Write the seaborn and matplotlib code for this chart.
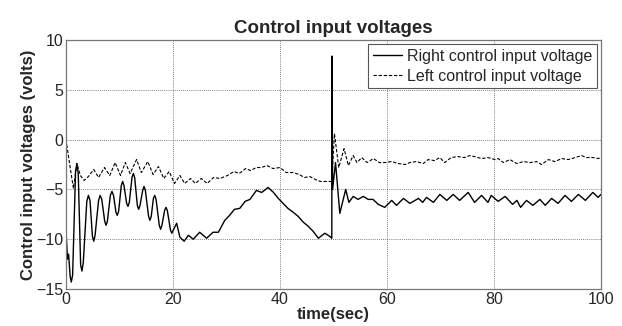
import matplotlib
matplotlib.use("Agg")
import matplotlib.pyplot as plt
import seaborn as sns
import pandas as pd

# Right control input voltage (solid)
t_right = [0.0, 0.3, 0.5, 0.8, 1.0, 1.25, 1.8, 2.05, 2.3, 2.75, 3.0, 3.25,
           3.9, 4.2, 4.5, 4.95, 5.2, 5.45, 6.1, 6.4, 6.7, 7.25, 7.5, 7.75,
           8.3, 8.6, 8.9, 9.35, 9.6, 9.85, 10.35, 10.6, 10.85, 11.35, 11.6, 11.85,
           12.35, 12.6, 12.85, 13.35, 13.6, 13.85, 14.35, 14.6, 14.85, 15.45, 15.7, 15.95,
           16.35, 16.6, 16.85, 17.45, 17.7, 17.95, 18.45, 18.7, 18.95, 19.55, 19.8, 20.05,
           20.7, 21.3, 22.1, 22.9, 23.8, 25.0, 26.3, 27.5, 28.5, 29.7, 30.6, 31.5,
           32.5, 33.5, 34.4, 35.6, 36.6, 37.8, 38.8, 39.7, 40.6, 41.5, 42.5, 43.4,
           44.4, 45.3, 46.2, 47.2, 48.4, 49.3, 49.7, 49.75, 49.85, 50.4, 51.2, 52.3,
           52.9, 53.7, 54.6, 55.6, 56.5, 57.4, 58.4, 59.6, 60.9, 61.8, 63.1, 64.3,
           65.9, 66.7, 67.4, 68.7, 69.9, 71.2, 72.4, 73.6, 75.2, 76.4, 77.7, 78.9,
           79.5, 80.8, 82.1, 83.5, 84.3, 85.0, 86.1, 87.3, 88.6, 89.6, 90.8, 92.0,
           93.3, 94.5, 95.8, 97.1, 98.5, 99.5, 100.0]
v_right = [-9.0, -12.0, -11.5, -13.8, -14.3, -13.6, -3.2, -2.4, -3.4, -12.6, -13.2, -12.3,
           -6.2, -5.6, -6.1, -9.7, -10.2, -9.6, -6.1, -5.6, -6.0, -8.2, -8.6, -8.2,
           -5.6, -5.2, -5.6, -7.3, -7.6, -7.2, -4.6, -4.2, -4.6, -6.4, -6.7, -6.3,
           -3.8, -3.4, -3.8, -6.6, -7.0, -6.6, -5.1, -4.7, -5.1, -7.7, -8.1, -7.7,
           -5.9, -5.6, -6.0, -8.6, -9.0, -8.6, -7.1, -6.8, -7.1, -9.1, -9.4, -9.1,
           -8.4, -9.8, -10.2, -9.6, -10.0, -9.3, -9.9, -9.3, -9.3, -8.1, -7.6, -7.0,
           -6.9, -6.2, -6.0, -5.1, -5.3, -4.8, -5.3, -5.9, -6.4, -6.9, -7.3, -7.7,
           -8.3, -8.7, -9.2, -9.9, -9.4, -9.7, -9.9, 8.4, -5.0, -2.3, -7.4, -5.0,
           -6.3, -5.7, -6.0, -5.7, -6.0, -6.0, -6.5, -6.8, -6.1, -6.6, -5.9, -6.4,
           -5.9, -6.3, -5.8, -6.3, -5.5, -6.1, -5.5, -6.1, -5.3, -6.3, -5.6, -6.3,
           -5.6, -6.2, -5.7, -6.5, -6.1, -6.8, -6.1, -6.6, -6.0, -6.6, -5.9, -6.4,
           -5.6, -6.2, -5.5, -6.1, -5.3, -5.8, -5.5]

# Left control input voltage (dashed)
t_left = [0.0, 1.4, 2.05, 2.7, 3.4, 4.2, 5.2, 6.1, 7.2, 8.2, 9.2, 10.2, 11.1, 12.0,
          13.2, 14.1, 15.3, 16.3, 17.3, 18.3, 19.3, 20.3, 21.3, 22.2, 23.3, 24.2,
          25.3, 26.4, 27.6, 28.8, 30.2, 31.4, 32.4, 33.6, 34.5, 35.6, 36.5, 37.6,
          38.7, 40.0, 41.2, 42.4, 43.6, 44.6, 45.6, 46.6, 47.6, 48.6, 49.7, 50.2,
          51.0, 52.0, 52.8, 53.7, 54.4, 55.3, 56.3, 57.5, 58.6, 59.6, 60.9, 62.1,
          63.4, 64.3, 65.5, 66.8, 67.7, 68.9, 69.9, 70.8, 72.0, 73.3, 74.5, 75.5,
          76.4, 77.7, 78.9, 80.2, 80.8, 81.8, 83.0, 84.3, 85.5, 86.8, 88.0, 88.9,
          90.2, 91.4, 92.7, 93.9, 95.2, 96.4, 97.3, 98.6, 99.5, 100.0]
v_left = [0.0, -4.9, -2.4, -3.6, -4.1, -3.7, -3.0, -3.8, -2.8, -3.6, -2.3, -3.6,
          -2.3, -3.4, -2.0, -3.3, -2.2, -3.5, -2.7, -3.9, -3.2, -4.4, -3.6, -4.4,
          -3.9, -4.4, -3.9, -4.4, -3.8, -3.9, -3.6, -3.2, -3.4, -2.9, -3.1, -2.8,
          -2.8, -2.6, -2.9, -2.8, -3.3, -3.3, -3.5, -3.8, -3.7, -4.0, -4.2, -4.2,
          -4.2, 0.6, -2.8, -0.9, -2.6, -1.6, -2.3, -1.8, -2.3, -1.9, -2.3, -2.3,
          -2.2, -2.4, -2.5, -2.3, -2.2, -2.4, -2.0, -2.1, -1.8, -2.3, -1.8, -1.7,
          -1.8, -1.6, -1.7, -1.9, -1.8, -2.0, -1.9, -2.3, -2.0, -2.4, -2.2, -2.3,
          -2.2, -2.5, -2.0, -2.2, -1.9, -2.0, -1.8, -1.6, -1.8, -1.8, -1.9, -1.8]

right_df = pd.DataFrame({"t": t_right, "v": v_right})
left_df = pd.DataFrame({"t": t_left, "v": v_left})

sns.set_style("white")
plt.rcParams["font.family"] = ["Liberation Sans", "DejaVu Sans"]

fig = plt.figure(figsize=(6.22, 3.26), dpi=100)
ax = fig.add_axes([0.106, 0.1135, 0.86, 0.7635])

sns.lineplot(data=right_df, x="t", y="v", estimator=None, sort=False, color="black",
             linewidth=1.0, label="Right control input voltage", ax=ax)
sns.lineplot(data=left_df, x="t", y="v", estimator=None, sort=False, color="black",
             linewidth=0.8, linestyle=(0, (3, 1.6)), label="Left control input voltage", ax=ax)

ax.set_xlim(0, 100)
ax.set_ylim(-15, 10)
ax.set_xticks([0, 20, 40, 60, 80, 100])
ax.set_yticks([-15, -10, -5, 0, 5, 10])
ax.grid(True, linestyle=(0, (1, 1.5)), color="#555555", linewidth=0.6)
ax.tick_params(direction="in", length=3, labelsize=11.5, color="#666666", pad=2)
for s in ax.spines.values():
    s.set_color("#777777")
    s.set_linewidth(0.9)

ax.set_title("Control input voltages", fontsize=13.5, fontweight="bold", pad=5)
ax.set_xlabel("time(sec)", fontsize=12, fontweight="bold", labelpad=0)
ax.set_ylabel("Control input voltages (volts)", fontsize=12, fontweight="bold", labelpad=0)

leg = ax.legend(loc="upper right", fontsize=11.5, fancybox=False, framealpha=1,
                edgecolor="#555555", handlelength=1.8, handletextpad=0.3,
                borderaxespad=0.25, borderpad=0.3, labelspacing=0.3)
leg.get_frame().set_linewidth(0.8)

fig.savefig("out.png", dpi=100)
